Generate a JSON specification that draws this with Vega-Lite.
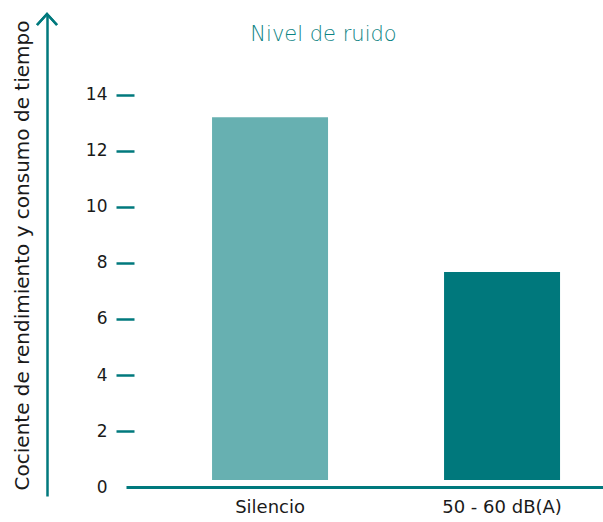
{
  "$schema": "https://vega.github.io/schema/vega-lite/v6.json",
  "width": 477,
  "height": 482,
  "autosize": "none",
  "padding": {"left": 126, "top": 14, "right": 0, "bottom": 26},
  "background": "white",
  "config": {"view": {"stroke": null}},
  "title": {"text": "Nivel de ruido", "font": "DejaVu Sans", "fontSize": 21, "fontWeight": 200, "color": "#0c8383", "anchor": "middle", "offset": -36, "dx": -41},
  "data": {"values": [
    {"nivel": "Silencio", "valor": 13.2, "base": 0.25},
    {"nivel": "50 - 60 dB(A)", "valor": 7.68, "base": 0.25}
  ]},
  "resolve": {"axis": {"y": "independent"}},
  "layer": [
    {
      "mark": {"type": "bar"},
      "encoding": {
        "x": {"field": "nivel", "type": "nominal", "sort": null,
          "scale": {"paddingInner": 0.5, "paddingOuter": 0.278, "align": 0.667},
          "axis": {"orient": "bottom", "offset": -9, "domainColor": "#00797d", "domainWidth": 3, "ticks": false, "labelAngle": 0, "labelFont": "DejaVu Sans", "labelFontSize": 18, "labelColor": "#1a1a1a", "labelPadding": 11, "title": null}},
        "y": {"field": "valor", "type": "quantitative",
          "scale": {"domain": [-0.32, 16.89], "nice": false, "zero": false},
          "axis": {"orient": "left", "offset": -8, "domain": false, "values": [0, 2, 4, 6, 8, 10, 12, 14], "tickSize": 18, "tickWidth": 2.5, "tickColor": "#00797d", "tickOpacity": {"condition": {"test": "datum.value === 0", "value": 0}, "value": 1}, "labelFont": "DejaVu Sans", "labelFontSize": 17, "labelColor": "#1a1a1a", "labelPadding": 9, "grid": false, "title": null}},
        "y2": {"field": "base"},
        "color": {"field": "nivel", "type": "nominal", "scale": {"domain": ["Silencio", "50 - 60 dB(A)"], "range": ["#67b0b1", "#00787c"]}, "legend": null}
      }
    },
    {
      "mark": {"type": "point", "shape": "M-1,1.1L0,0L1,1.1", "size": 400, "filled": false, "color": "#00797d", "strokeWidth": 2.5, "opacity": 1},
      "encoding": {
        "x": {"value": -79},
        "y": {"datum": 16.89, "type": "quantitative",
          "scale": {"domain": [-0.32, 16.89], "nice": false, "zero": false},
          "axis": {"orient": "left", "offset": 79, "domain": true, "domainColor": "#00797d", "domainWidth": 2.5, "ticks": false, "labels": false, "grid": false, "title": "Cociente de rendimiento y consumo de tiempo", "titleFont": "DejaVu Sans", "titleFontSize": 20, "titleFontWeight": "normal", "titleColor": "#1a1a1a", "titlePadding": 15}}
      }
    }
  ]
}
